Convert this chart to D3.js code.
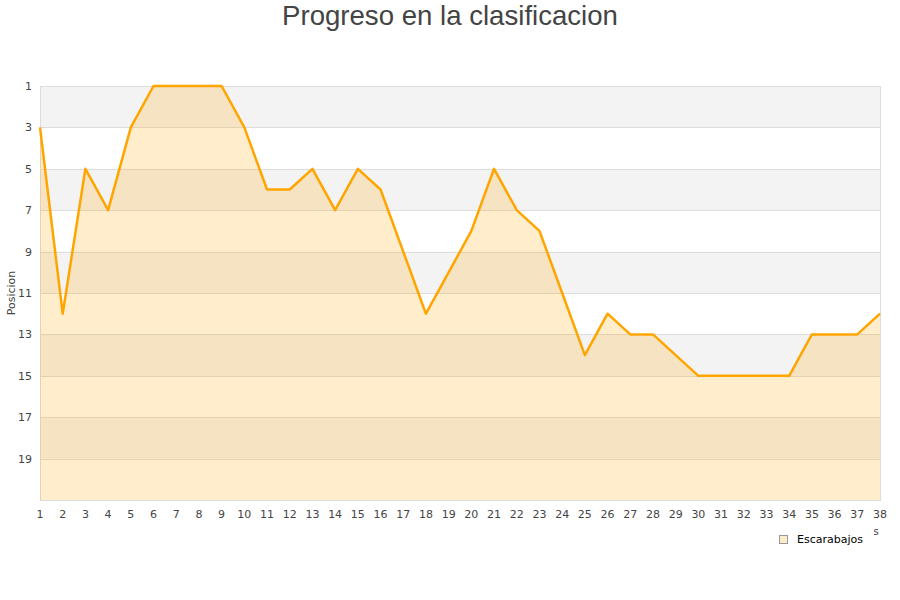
<!DOCTYPE html>
<html><head><meta charset="utf-8">
<script src="https://cdn.jsdelivr.net/npm/d3@7"></script>
<style>body{margin:0;background:#fff}svg{display:block}</style>
</head><body>
<script>
const title = "Progreso en la clasificacion";
const seriesName = "Escarabajos";
const yTitle = "Posicion";
const jornadas = d3.range(1, 39);
const posiciones = [3,12,5,7,3,1,1,1,1,3,6,6,5,7,5,6,9,12,10,8,5,7,8,11,14,12,13,13,14,15,15,15,15,15,13,13,13,12];
const yTicks = [1,3,5,7,9,11,13,15,17,19];

const W = 900, H = 600;
const m = {l:40, r:880, t:86, b:500};
const svg = d3.select("body").append("svg").attr("width", W).attr("height", H);

const x = d3.scaleLinear().domain([1, 38]).range([m.l, m.r]);
const y = d3.scaleLinear().domain([1, 21]).range([m.t, m.b]);

// bands
const bandStarts = [1,5,9,13,17];
svg.append("g").selectAll("rect").data(bandStarts).join("rect")
  .attr("x", m.l).attr("width", m.r - m.l)
  .attr("y", d => y(d)).attr("height", d => y(d + 2) - y(d))
  .attr("fill", "#f3f3f3");

// grid
svg.append("g").selectAll("line").data(yTicks.slice(1)).join("line")
  .attr("x1", m.l).attr("x2", m.r)
  .attr("y1", d => Math.round(y(d)) + 0.5).attr("y2", d => Math.round(y(d)) + 0.5)
  .attr("stroke", "#dddddd").attr("stroke-width", 1);

// border
svg.append("rect").attr("x", m.l + 0.5).attr("y", m.t + 0.5)
  .attr("width", m.r - m.l).attr("height", m.b - m.t)
  .attr("fill", "none").attr("stroke", "#dddddd");

const data = jornadas.map((j, i) => ({j, p: posiciones[i]}));

svg.append("path").datum(data)
  .attr("d", d3.area().x(d => x(d.j)).y0(y(21)).y1(d => y(d.p)))
  .attr("fill", "#ffa500").attr("fill-opacity", 0.2);

svg.append("path").datum(data)
  .attr("d", d3.line().x(d => x(d.j)).y(d => y(d.p)))
  .attr("fill", "none").attr("stroke", "#ffa500").attr("stroke-width", 2.5)
  .attr("stroke-linejoin", "round");

// axes labels
const font = "DejaVu Sans, sans-serif";
svg.append("g").selectAll("text").data(yTicks).join("text")
  .attr("x", 32).attr("y", d => y(d) + 4)
  .attr("text-anchor", "end").attr("font-family", font).attr("font-size", 11)
  .attr("fill", "#444").text(d => d);

svg.append("g").selectAll("text").data(jornadas).join("text")
  .attr("x", d => x(d)).attr("y", 518)
  .attr("text-anchor", "middle").attr("font-family", font).attr("font-size", 11)
  .attr("fill", "#444").text(d => d);

svg.append("text").attr("transform", `translate(15,${(m.t + m.b) / 2}) rotate(-90)`)
  .attr("text-anchor", "middle").attr("font-family", font).attr("font-size", 11)
  .attr("fill", "#444").text(yTitle);

svg.append("text").attr("x", 876).attr("y", 535)
  .attr("text-anchor", "middle").attr("font-family", font).attr("font-size", 10)
  .attr("fill", "#444").text("s");

// title
svg.append("text").attr("x", W / 2).attr("y", 25)
  .attr("text-anchor", "middle").attr("font-family", "Liberation Sans, Arial, sans-serif")
  .attr("font-size", 27.6).attr("fill", "#444").text(title);

// legend
svg.append("rect").attr("x", 779.5).attr("y", 535.5).attr("width", 8).attr("height", 8)
  .attr("fill", "#fdeccb").attr("stroke", "#999").attr("stroke-width", 1);
svg.append("text").attr("x", 797).attr("y", 543)
  .attr("font-family", font).attr("font-size", 11).attr("fill", "#000").text(seriesName);
</script>
</body></html>
